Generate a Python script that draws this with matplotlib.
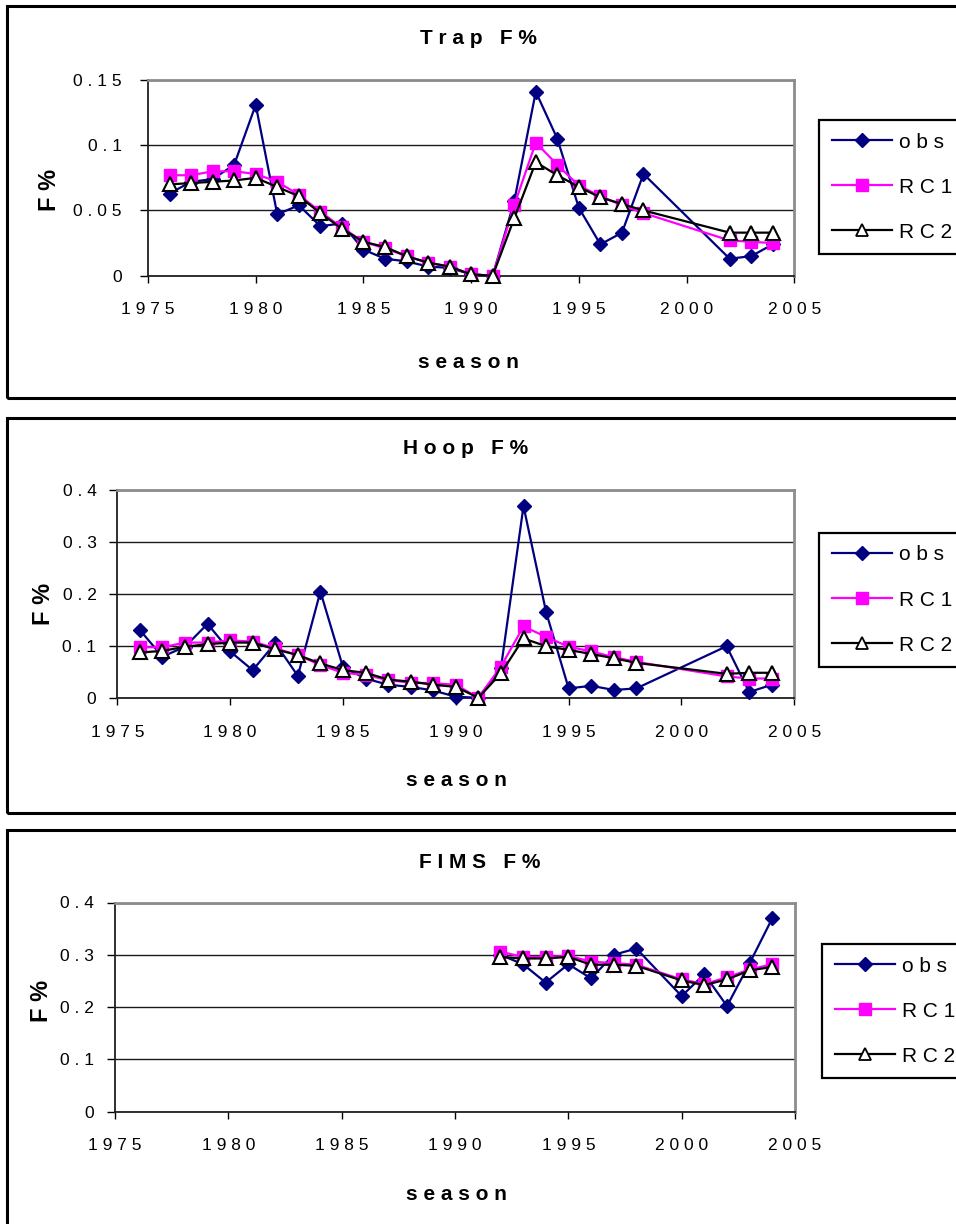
import matplotlib
matplotlib.use("Agg")
import matplotlib.pyplot as plt
from matplotlib.patches import Rectangle
from matplotlib.lines import Line2D

# ---------------- data ----------------
trap_years = [1976, 1977, 1978, 1979, 1980, 1981, 1982, 1983, 1984, 1985, 1986, 1987,
              1988, 1989, 1990, 1991, 1992, 1993, 1994, 1995, 1996, 1997, 1998,
              2002, 2003, 2004]
trap_obs = [0.063, 0.072, 0.074, 0.085, 0.131, 0.047, 0.054, 0.038, 0.040, 0.020, 0.013, 0.011,
            0.007, 0.006, 0.001, 0.000, 0.057, 0.141, 0.105, 0.052, 0.024, 0.033, 0.078,
            0.013, 0.015, 0.024]
trap_rc1 = [0.077, 0.077, 0.080, 0.080, 0.078, 0.072, 0.062, 0.049, 0.037, 0.026, 0.021, 0.015,
            0.010, 0.007, 0.001, 0.000, 0.054, 0.102, 0.085, 0.069, 0.061, 0.054, 0.048,
            0.027, 0.026, 0.025]
trap_rc2 = [0.070, 0.071, 0.072, 0.073, 0.075, 0.068, 0.061, 0.048, 0.036, 0.026, 0.022, 0.015,
            0.010, 0.007, 0.001, 0.000, 0.044, 0.087, 0.077, 0.068, 0.060, 0.055, 0.050,
            0.033, 0.033, 0.033]

hoop_years = trap_years
hoop_obs = [0.131, 0.080, 0.099, 0.143, 0.090, 0.054, 0.106, 0.043, 0.205, 0.060, 0.038, 0.026,
            0.022, 0.015, 0.003, 0.001, 0.058, 0.369, 0.166, 0.019, 0.024, 0.016, 0.019,
            0.100, 0.012, 0.026]
hoop_rc1 = [0.098, 0.098, 0.107, 0.107, 0.111, 0.109, 0.096, 0.083, 0.064, 0.049, 0.045, 0.035,
            0.030, 0.029, 0.026, 0.001, 0.061, 0.138, 0.118, 0.099, 0.090, 0.079, 0.070,
            0.042, 0.038, 0.038]
hoop_rc2 = [0.088, 0.091, 0.099, 0.104, 0.107, 0.107, 0.094, 0.083, 0.067, 0.054, 0.049, 0.036,
            0.032, 0.026, 0.022, 0.001, 0.048, 0.115, 0.100, 0.093, 0.085, 0.077, 0.068,
            0.047, 0.049, 0.049]

fims_years = [1992, 1993, 1994, 1995, 1996, 1997, 1998, 2000, 2001, 2002, 2003, 2004]
fims_obs = [0.300, 0.282, 0.247, 0.282, 0.255, 0.300, 0.312, 0.221, 0.263, 0.202, 0.284, 0.370]
fims_rc1 = [0.306, 0.296, 0.296, 0.298, 0.287, 0.284, 0.281, 0.253, 0.244, 0.257, 0.272, 0.282]
fims_rc2 = [0.296, 0.293, 0.293, 0.296, 0.281, 0.281, 0.279, 0.251, 0.242, 0.253, 0.270, 0.277]

series_labels = ["o b s", "R C 1", "R C 2"]
panel_titles = ["T r a p   F %", "H o o p   F %", "F I M S   F %"]
x_label = "s e a s o n"
y_label = "F %"
x_ticks = [1975, 1980, 1985, 1990, 1995, 2000, 2005]
x_ticklabels = ["1 9 7 5", "1 9 8 0", "1 9 8 5", "1 9 9 0", "1 9 9 5", "2 0 0 0", "2 0 0 5"]
trap_yticks = [0, 0.05, 0.1, 0.15]
trap_yticklabels = ["0", "0 . 0 5", "0 . 1", "0 . 1 5"]
hoop_yticks = [0, 0.1, 0.2, 0.3, 0.4]
hoop_yticklabels = ["0", "0 . 1", "0 . 2", "0 . 3", "0 . 4"]

REG = "Liberation Sans"

W, H = 956, 1224
fig = plt.figure(figsize=(W / 100, H / 100), dpi=100)


def fx(px):
    return px / W


def fy(py):
    return 1 - py / H


# chart-area frames
frames = [(7, 6, 398), (7, 418, 813), (7, 830, 1300)]
for (x0, t, b) in frames:
    fig.add_artist(Rectangle((fx(x0), fy(b)), fx(1100), fy(t) - fy(b),
                             transform=fig.transFigure, fill=False,
                             edgecolor="black", linewidth=2.2, clip_on=False))

panels = [
    dict(years=trap_years, obs=trap_obs, rc1=trap_rc1, rc2=trap_rc2,
         box=(148, 794.3, 80, 275.7), ylim=0.15, yt=trap_yticks, ytl=trap_yticklabels,
         ypad=13, title=(478, 38), xl=(468, 362), yl=(50, 190), leg=(819, 120)),
    dict(years=hoop_years, obs=hoop_obs, rc1=hoop_rc1, rc2=hoop_rc2,
         box=(117.3, 794.3, 490, 698.3), ylim=0.4, yt=hoop_yticks, ytl=hoop_yticklabels,
         ypad=9, title=(466, 449), xl=(456, 780), yl=(43, 604), leg=(819, 533)),
    dict(years=fims_years, obs=fims_obs, rc1=fims_rc1, rc2=fims_rc2,
         box=(115, 795, 902.5, 1111.7), ylim=0.4, yt=hoop_yticks, ytl=hoop_yticklabels,
         ypad=9, title=(480, 862), xl=(456, 1194), yl=(41, 1001), leg=(822, 944)),
]

for i, p in enumerate(panels):
    l, r, t, b = p["box"]
    ax = fig.add_axes([fx(l), fy(b), fx(r) - fx(l), fy(t) - fy(b)])
    ax.set_xlim(1975, 2005)
    ax.set_ylim(0, p["ylim"])
    ax.set_axisbelow(True)
    ax.yaxis.grid(True, color="#1a1a1a", linewidth=1.0)
    ax.set_xticks(x_ticks)
    ax.set_xticklabels(x_ticklabels, fontfamily=REG, fontsize=12.5)
    ax.set_yticks(p["yt"])
    ax.set_yticklabels(p["ytl"], fontfamily=REG, fontsize=12.5)
    ax.tick_params(axis="x", direction="out", length=5, width=1, pad=14, color="black")
    ax.tick_params(axis="y", direction="out", length=6, width=1, pad=p["ypad"], color="black")
    for s in ("top", "right"):
        ax.spines[s].set_color("#8c8c8c")
        ax.spines[s].set_linewidth(2.0)
    for s in ("left", "bottom"):
        ax.spines[s].set_color("#202020")
        ax.spines[s].set_linewidth(1.3)

    ax.plot(p["years"], p["obs"], color="#000080", linewidth=1.6, marker="D",
            markersize=7.5, markerfacecolor="#000080", markeredgecolor="#000080",
            clip_on=False, zorder=3)
    ax.plot(p["years"], p["rc1"], color="#FF00FF", linewidth=1.6, marker="s",
            markersize=8.3, markerfacecolor="#FF00FF", markeredgecolor="#FF00FF",
            clip_on=False, zorder=4)
    ax.plot(p["years"], p["rc2"], color="black", linewidth=1.6, marker="^",
            markersize=9.5, markerfacecolor="white", markeredgecolor="black",
            markeredgewidth=1.5, clip_on=False, zorder=5)

    fig.text(fx(p["title"][0]), fy(p["title"][1]), panel_titles[i],
             ha="center", va="center", fontfamily=REG, fontweight="bold", fontsize=15)
    fig.text(fx(p["xl"][0]), fy(p["xl"][1]), x_label, ha="center", va="center",
             fontfamily=REG, fontweight="bold", fontsize=15)
    fig.text(fx(p["yl"][0]), fy(p["yl"][1]), y_label, ha="center", va="center",
             rotation=90, fontfamily=REG, fontweight="bold", fontsize=17)

    lh1 = Line2D([], [], color="#000080", linewidth=1.6, marker="D", markersize=7.5,
                 markerfacecolor="#000080", markeredgecolor="#000080")
    lh2 = Line2D([], [], color="#FF00FF", linewidth=1.6, marker="s", markersize=8,
                 markerfacecolor="#FF00FF", markeredgecolor="#FF00FF")
    lh3 = Line2D([], [], color="black", linewidth=1.6, marker="^", markersize=8,
                 markerfacecolor="white", markeredgecolor="black", markeredgewidth=1.3)
    leg = ax.legend([lh1, lh2, lh3], series_labels, loc="upper left",
                    bbox_to_anchor=(fx(p["leg"][0]), fy(p["leg"][1])),
                    bbox_transform=fig.transFigure, frameon=True, fancybox=False,
                    shadow=False, framealpha=1, edgecolor="black",
                    prop={"family": REG, "size": 15}, handlelength=2.9,
                    handletextpad=0.35, labelspacing=1.25, borderpad=0.6,
                    borderaxespad=0)
    leg.get_frame().set_linewidth(1.6)
    leg.set_clip_on(False)

fig.savefig("out.png", dpi=100)
